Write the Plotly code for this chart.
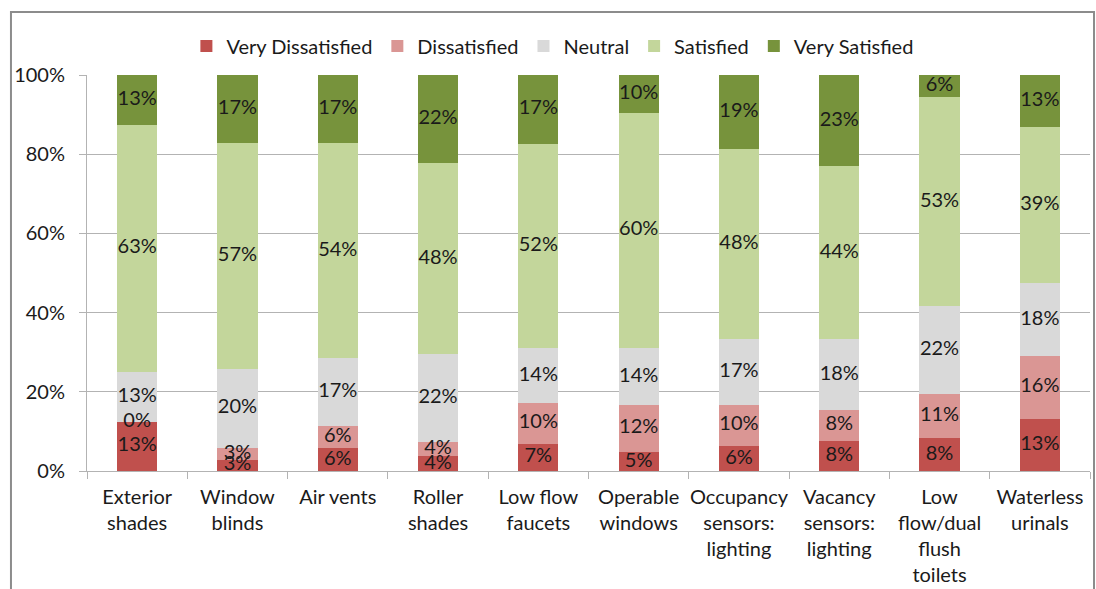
import math
import plotly.graph_objects as go

# categories and series (percent of respondents)
categories = ["Exterior<br>shades", "Window<br>blinds", "Air vents", "Roller<br>shades",
              "Low flow<br>faucets", "Operable<br>windows", "Occupancy<br>sensors:<br>lighting",
              "Vacancy<br>sensors:<br>lighting", "Low<br>flow/dual<br>flush<br>toilets",
              "Waterless<br>urinals"]

very_dissatisfied = [12.5, 2.9, 5.7, 3.7, 6.9, 4.8, 6.3, 7.7, 8.3, 13.2]
dissatisfied      = [0.0, 2.9, 5.7, 3.7, 10.3, 11.9, 10.4, 7.7, 11.1, 15.8]
neutral           = [12.5, 20.0, 17.1, 22.2, 13.8, 14.3, 16.7, 17.9, 22.2, 18.4]
satisfied         = [62.5, 57.1, 54.3, 48.1, 51.7, 59.5, 47.9, 43.6, 52.8, 39.4]
very_satisfied    = [12.5, 17.1, 17.1, 22.2, 17.2, 9.5, 18.8, 23.1, 5.6, 13.2]

series = [
    ("Very Dissatisfied", very_dissatisfied, "#C0504D"),
    ("Dissatisfied", dissatisfied, "#DA9694"),
    ("Neutral", neutral, "#D9D9D9"),
    ("Satisfied", satisfied, "#C3D69B"),
    ("Very Satisfied", very_satisfied, "#77933C"),
]

FONT = "Lato, Open Sans, sans-serif"
FS = 20

fig = go.Figure()
base = [0.0] * len(categories)
for name, vals, color in series:
    fig.add_trace(go.Bar(name=name, x=categories, y=[v / 100 for v in vals],
                         marker=dict(color=color, line=dict(width=0)),
                         hoverinfo="skip"))
    # labels in the middle of each segment
    mids = [(b + v / 2) / 100 for b, v in zip(base, vals)]
    fig.add_trace(go.Scatter(x=categories, y=mids, mode="text",
                             text=["%d%%" % math.floor(v + 0.5) for v in vals],
                             textfont=dict(family=FONT, size=FS, color="#1a1a1a"),
                             showlegend=False, hoverinfo="skip"))
    base = [b + v for b, v in zip(base, vals)]

# outer chart border
fig.add_shape(type="rect", xref="paper", yref="paper",
              x0=-0.0758, x1=1.004, y0=-0.33, y1=1.159,
              line=dict(color="#8c8c8c", width=2), layer="below")

fig.update_layout(
    barmode="stack",
    bargap=0.6,
    width=1096, height=589,
    margin=dict(l=87, r=6, t=75, b=118),
    paper_bgcolor="white", plot_bgcolor="white",
    font=dict(family=FONT, size=FS, color="#1a1a1a"),
    showlegend=True,
    legend=dict(orientation="h", x=0.464, xanchor="center", y=1.073, yanchor="middle",
                font=dict(size=FS), itemwidth=30, traceorder="normal"),
)
fig.update_yaxes(range=[0, 1], tickvals=[0, 0.2, 0.4, 0.6, 0.8, 1.0], tickformat=".0%",
                 showgrid=True, gridcolor="#b3b3b3", gridwidth=1,
                 showline=True, linecolor="#b3b3b3", linewidth=1,
                 ticks="outside", ticklen=7, tickcolor="#b3b3b3", zeroline=False,
                 ticklabelstandoff=10, automargin=False)
fig.update_xaxes(showline=True, linecolor="#b3b3b3", linewidth=1,
                 ticks="outside", ticklen=7, tickcolor="#b3b3b3", tickson="boundaries",
                 tickangle=0, automargin=False, ticklabelstandoff=8)

fig.write_html("out.html", config={"displayModeBar": False},
               post_script="document.body.style.margin='0';")
